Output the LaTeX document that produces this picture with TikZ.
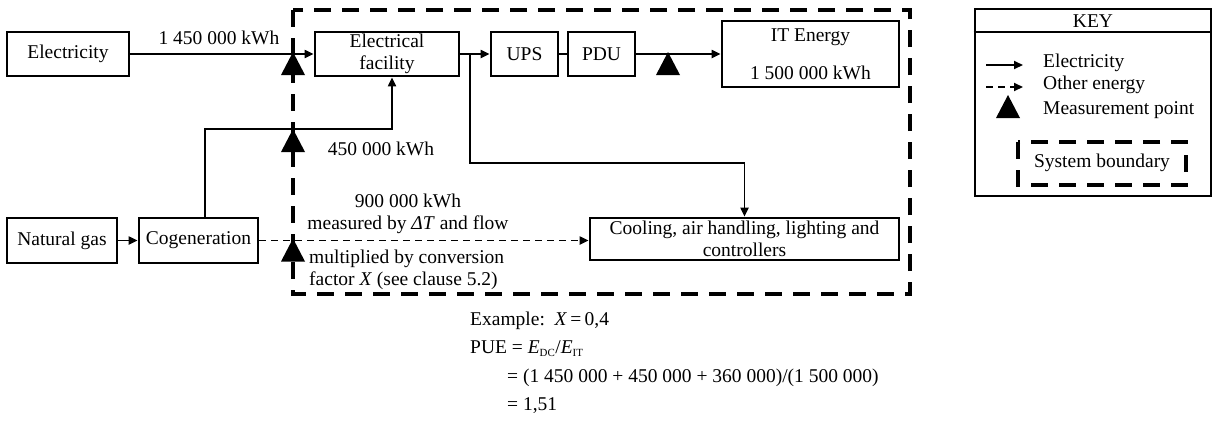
\documentclass[tikz,border=0pt]{standalone}
\usepackage{fontspec}
\setmainfont{Liberation Serif}
\usetikzlibrary{arrows.meta}
\begin{document}
\begin{tikzpicture}[x=1pt,y=-1pt,
  every node/.style={font=\fontsize{19.5}{22}\selectfont, inner sep=0pt},
  box/.style={draw, line width=2.7pt, align=center, minimum height=44pt},
  elec/.style={line width=1.9pt, -{Triangle[length=9pt,width=8pt]}},
  wire/.style={line width=1.9pt},
  other/.style={line width=1.9pt, dash pattern=on 7pt off 5pt, -{Triangle[length=9pt,width=8pt]}},
  boundary/.style={line width=4.5pt, dash pattern=on 17pt off 11pt},
  meas/.pic={\fill (0,-2) -- (-12,21) -- (12,21) -- cycle;}
]
\useasboundingbox (0,0) rectangle (1214,421);

% system boundary
\draw[boundary] (293,10) rectangle (910,294);

% boxes
\node[box, minimum width=122pt] (elec) at (68,54) {Electricity};
\node[box, minimum width=144pt] (fac) at (387,54) {Electrical\\facility};
\node[box, minimum width=67pt] (ups) at (524.5,54) {UPS};
\node[box, minimum width=67pt] (pdu) at (601.5,54) {PDU};
\node[box, minimum width=177pt, minimum height=66pt] (it) at (810.5,54) {IT Energy\\[16pt]1 500 000 kWh};
\node[box, minimum width=110pt, minimum height=45pt] (ng) at (62,240.5) {Natural gas};
\node[box, minimum width=119pt, minimum height=45pt] (cog) at (198.5,240.5) {Cogeneration};
\node[box, minimum width=309pt, minimum height=42pt] (cool) at (744.5,239) {Cooling, air handling, lighting and\\controllers};

% connectors
\draw[elec] (elec.east) -- (fac.west);
\coordinate (br) at (470,54);
\draw[elec] (fac.east) -- (ups.west);
\draw[elec] (br) -- ++(0,109) -| (cool.north);
\draw[wire] (ups.east) -- (pdu.west);
\draw[elec] (pdu.east) -- (it.west);
\draw[elec] (ng.east) -- (cog.west);
\draw[elec] ([xshift=6.5pt]cog.north) -- ++(0,-88) -| ([xshift=5pt]fac.south);
\draw[other] (cog.east) -- (cool.west |- cog.east);

% measurement points
\pic at (293,54) {meas};
\pic at (668,54) {meas};
\pic at (293,131) {meas};
\pic at (293,240.5) {meas};

% labels
\node (l1) at (219,38) {1 450 000 kWh};
\node (l2) at (381,149) {450 000 kWh};
\node[align=center] (l3) at (408,214) {900 000 kWh\\measured by \textit{ΔT} and flow};
\node[align=left, anchor=west] (l4) at (309,270) {multiplied by conversion\\factor \textit{X} (see clause 5.2)};

% formula
\node[anchor=west] (f1) at (470,321) {Example:\ \ \textit{X}\,=\,0,4};
\node[anchor=west] (f2) at (470,349) {PUE = \textit{E}\textsubscript{\scalebox{0.8}{DC}}/\textit{E}\textsubscript{\scalebox{0.8}{IT}}};
\node[anchor=west] (f3) at (507,378) {= (1 450 000 + 450 000 + 360 000)/(1 500 000)};
\node[anchor=west] (f4) at (507,406) {= 1,51};

% key
\node[draw, line width=2.7pt, minimum width=236pt, minimum height=187pt] (key) at (1093,102.5) {};
\draw[line width=2pt] (key.west |- 0,32) -- (key.east |- 0,32);
\node (keyt) at (1093,21) {KEY};
\coordinate (k1) at (986,65);
\draw[elec] (k1) -- ++(37,0);
\node[anchor=west] (k1t) at (1043,63) {Electricity};
\coordinate (k2) at (986,87);
\draw[other] (k2) -- ++(37,0);
\node[anchor=west] (k2t) at (1043,85) {Other energy};
\pic at (1008,97) {meas};
\node[anchor=west] (k3t) at (1043,110) {Measurement point};
\draw[boundary] (1018,142) rectangle (1186,185);
\node (k4t) at (1102,163) {System boundary};
\end{tikzpicture}
\end{document}
